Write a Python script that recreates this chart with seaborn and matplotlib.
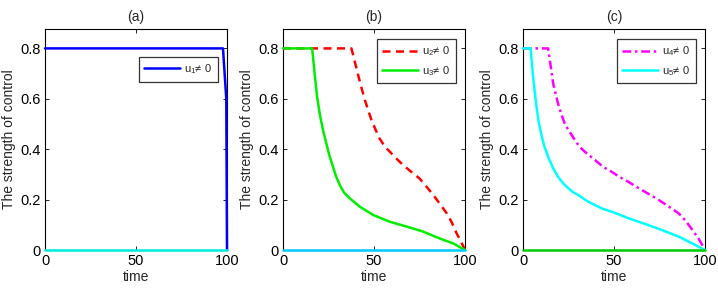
import numpy as np
import pandas as pd
import matplotlib
matplotlib.use("Agg")
import matplotlib.pyplot as plt
import seaborn as sns

# ---- data ----
t_u1 = [0, 97.8, 99.6, 100]
u1 = [0.8, 0.8, 0.6, 0.0]

t_u2 = [0, 37.6, 39, 40.4, 42.5, 45, 47, 48.6, 51, 53, 56, 58.7, 62, 66, 70.5, 75, 79,
        82.6, 86.5, 90, 92.7, 95.4, 97.7, 100]
u2 = [0.8, 0.8, 0.76, 0.72, 0.66, 0.595, 0.55, 0.516, 0.475, 0.443, 0.41, 0.39, 0.365,
      0.337, 0.31, 0.284, 0.25, 0.218, 0.18, 0.145, 0.11, 0.066, 0.035, 0.0]

t_u3 = [0, 16, 17.4, 18.7, 20.2, 22, 23.9, 25.5, 27.5, 29, 31.2, 33.5, 36.7, 42.2, 49.5,
        58.7, 67.9, 77, 86, 93.6, 100]
u3 = [0.8, 0.8, 0.70, 0.61, 0.54, 0.475, 0.42, 0.375, 0.33, 0.295, 0.258, 0.228, 0.205,
      0.172, 0.139, 0.112, 0.093, 0.073, 0.046, 0.026, 0.0]

t_u4 = [0, 13.8, 15.2, 16.6, 17.9, 19.3, 21, 23, 25.5, 28.5, 31, 34, 37, 39.6, 44, 48.8,
        53, 58, 62, 67.2, 72, 76.4, 81, 85.6, 89.5, 93, 96.5, 100]
u4 = [0.8, 0.8, 0.73, 0.66, 0.62, 0.58, 0.54, 0.50, 0.47, 0.437, 0.41, 0.39, 0.372, 0.357,
      0.33, 0.31, 0.29, 0.27, 0.252, 0.23, 0.21, 0.19, 0.168, 0.145, 0.115, 0.08, 0.045, 0.0]

t_u5 = [0, 4.2, 5.5, 6.4, 7.4, 8.6, 10, 11.8, 13.8, 16.5, 19.3, 22, 24.9, 27.5, 30.4, 35,
        39.6, 44, 48.8, 58, 67.2, 76.4, 85.6, 93, 100]
u5 = [0.8, 0.8, 0.69, 0.63, 0.57, 0.51, 0.46, 0.41, 0.37, 0.325, 0.29, 0.265, 0.245, 0.23,
      0.218, 0.195, 0.178, 0.163, 0.152, 0.126, 0.103, 0.079, 0.053, 0.026, 0.0]

t_zero = [0, 100]
u_zero = [0.0, 0.0]

titles = ["(a)", "(b)", "(c)"]
x_ticks = [0, 50, 100]
y_ticks = [0, 0.2, 0.4, 0.6, 0.8]
y_ticklabels = ["0", "0.2", "0.4", "0.6", "0.8"]

sns.set_style("ticks")
plt.rcParams["font.family"] = ["Liberation Sans", "DejaVu Sans"]
plt.rcParams["mathtext.default"] = "regular"

fig = plt.figure(figsize=(7.18, 2.90), dpi=100)
lefts = [45 / 718, 283 / 718, 523 / 718]
width = 182 / 718
bottom = 1 - 250 / 290
height = 221 / 290
axes = [fig.add_axes([l, bottom, width, height]) for l in lefts]

def line(ax, t, v, color, ls="-", label=None, lw=1.8, z=3):
    df = pd.DataFrame({"t": t, "v": v})
    sns.lineplot(data=df, x="t", y="v", ax=ax, color=color, linestyle=ls,
                 linewidth=lw, label=label, sort=False, estimator=None,
                 clip_on=False, zorder=z)

# (a)
ax = axes[0]
line(ax, t_u1, u1, "#0000ff", label="u$_1$≠ 0")
line(ax, t_zero, u_zero, "#00eedd", z=4)
# (b)
ax = axes[1]
line(ax, t_u2, u2, "#ff0000", ls=(0, (3.2, 2.2)), label="u$_2$≠ 0")
line(ax, t_u3, u3, "#00ee00", label="u$_3$≠ 0")
line(ax, t_zero, u_zero, "#00ccff", z=4)
# (c)
ax = axes[2]
line(ax, t_u4, u4, "#ff00ff", ls=(0, (3.5, 1.5, 1, 1.5)), label="u$_4$≠ 0")
line(ax, t_u5, u5, "#00ffff", label="u$_5$≠ 0")
line(ax, t_zero, u_zero, "#00cc00", z=4)

legend_anchor = [(0.98, 0.90), (0.98, 0.98), (0.98, 0.98)]
for i, ax in enumerate(axes):
    ax.set_xlim(0, 100)
    ax.set_ylim(0, 0.877)
    ax.set_xticks(x_ticks)
    ax.set_yticks(y_ticks)
    ax.set_yticklabels(y_ticklabels)
    ax.tick_params(direction="in", length=3, width=0.6, top=True, right=True,
                   labelsize=10.5, pad=3, colors="black")
    for s in ax.spines.values():
        s.set_linewidth(0.8)
        s.set_color("black")
    ax.set_xlabel("time", fontsize=10, labelpad=1)
    ax.set_ylabel("The strength of control", fontsize=10, labelpad=3)
    ax.set_title(titles[i], fontsize=10, pad=6)
    leg = ax.legend(loc="upper right", bbox_to_anchor=legend_anchor[i],
                    fontsize=8, frameon=True, fancybox=False, handlelength=3.2,
                    borderpad=0.5, labelspacing=0.5, handletextpad=0.4)
    leg.get_frame().set_edgecolor("black")
    leg.get_frame().set_linewidth(0.9)

fig.savefig("out.png", dpi=100, facecolor="white")
